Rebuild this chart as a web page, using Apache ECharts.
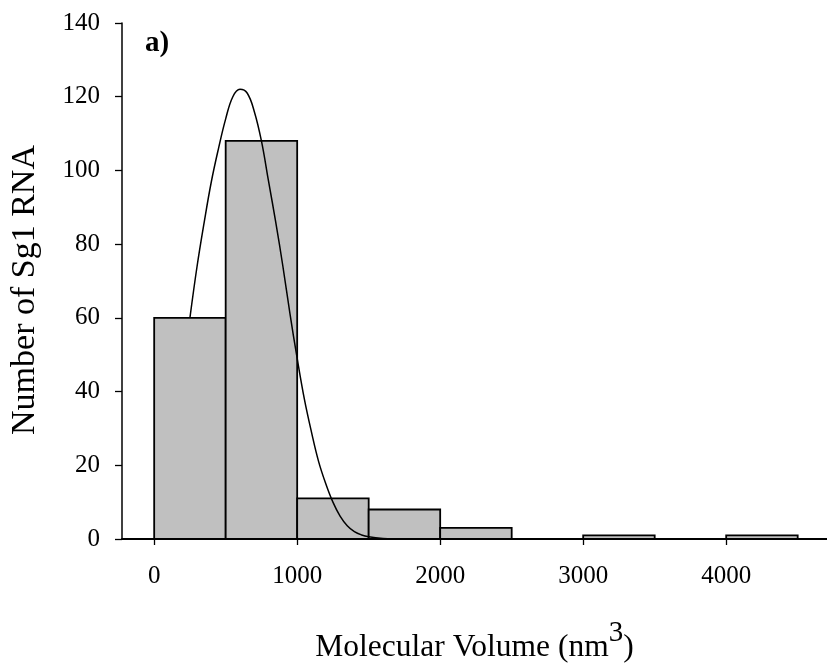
<!DOCTYPE html>
<html>
<head>
<meta charset="utf-8">
<script src="https://cdn.jsdelivr.net/npm/echarts@6/dist/echarts.min.js"></script>
<style>
  html, body { margin: 0; padding: 0; background: #fff; }
  #chart { width: 827px; height: 669px; }
</style>
</head>
<body>
<div id="chart"></div>
<script>
// Histogram bins (nm^3) and counts of Sg1 RNA molecules
const binStarts = [0, 500, 1000, 1500, 2000, 2500, 3000, 3500, 4000];
const binWidth = 500;
const counts = [60, 108, 11, 8, 3, 0, 1, 0, 1];

// Fitted distribution curve, sampled along the volume axis
const curveX = [250, 300, 350, 400, 450, 500, 550, 600, 650, 700, 750, 800, 850, 900, 950,
                1000, 1050, 1100, 1150, 1200, 1250, 1300, 1350, 1400, 1450, 1500, 1600, 1700, 1800];
const curveY = [60, 74, 86, 97, 106, 114, 120, 122, 121, 116, 108, 97, 86, 74, 61,
                49, 38, 29, 21, 15, 10, 6.2, 3.6, 2, 1.1, 0.6, 0.15, 0.03, 0];

const xTicks = [0, 1000, 2000, 3000, 4000];
const yTicks = [0, 20, 40, 60, 80, 100, 120, 140];

const FONT = 'Liberation Serif';

const histData = binStarts.map((s, i) => [s, s + binWidth, counts[i]]);
const curveData = curveX.map((x, i) => [x, curveY[i]]);

const chart = echarts.init(document.getElementById('chart'), null, { renderer: 'canvas' });

chart.setOption({
  backgroundColor: '#ffffff',
  animation: false,
  grid: { left: 120, top: 23, right: 0, bottom: 124, containLabel: false },
  xAxis: {
    type: 'value',
    min: -225,
    max: 4705,
    splitLine: { show: false },
    axisLine: { show: true, onZero: false, lineStyle: { color: '#000', width: 2 } },
    axisTick: { show: true, inside: false, length: 6, customValues: xTicks, lineStyle: { color: '#000', width: 1.3 } },
    axisLabel: {
      customValues: xTicks, color: '#000', fontFamily: FONT, fontSize: 25, margin: 25,
      formatter: v => String(v)
    },
    name: '{t|Molecular Volume (nm}{s|3}{t|)}',
    nameLocation: 'middle',
    nameGap: 80,
    nameTextStyle: {
      rich: {
        t: { fontFamily: FONT, fontSize: 31.5, color: '#000', verticalAlign: 'bottom' },
        s: { fontFamily: FONT, fontSize: 29, color: '#000', verticalAlign: 'bottom', padding: [0, 0, 16, 0] }
      }
    }
  },
  yAxis: {
    type: 'value',
    min: 0,
    max: 140,
    interval: 20,
    splitLine: { show: false },
    axisLine: { show: true, onZero: false, lineStyle: { color: '#000', width: 1.5 } },
    axisTick: { show: true, inside: false, length: 7, lineStyle: { color: '#000', width: 1.3 } },
    axisLabel: { color: '#000', fontFamily: FONT, fontSize: 25, margin: 22, formatter: v => String(v) },
    name: 'Number of Sg1 RNA',
    nameLocation: 'middle',
    nameGap: 80,
    nameTextStyle: { fontFamily: FONT, fontSize: 34, color: '#000', padding: [0, 18, 0, 0] }
  },
  graphic: [{
    type: 'text',
    left: 145,
    top: 29,
    style: { text: 'a)', fontFamily: FONT, fontSize: 29, fontWeight: 'bold', fill: '#000' }
  }],
  series: [
    {
      type: 'custom',
      z: 2,
      data: histData,
      renderItem: function (params, api) {
        const x0 = api.value(0), x1 = api.value(1), v = api.value(2);
        if (v <= 0) return null;
        const p0 = api.coord([x0, v]);
        const p1 = api.coord([x1, 0]);
        return {
          type: 'rect',
          shape: { x: p0[0], y: p0[1], width: p1[0] - p0[0], height: p1[1] - p0[1] },
          style: { fill: '#c0c0c0', stroke: '#000', lineWidth: 1.8 }
        };
      },
      encode: { x: [0, 1], y: 2 }
    },
    {
      type: 'line',
      z: 3,
      data: curveData,
      smooth: 0.4,
      showSymbol: false,
      lineStyle: { color: '#000', width: 1.5 }
    }
  ]
});
</script>
</body>
</html>
